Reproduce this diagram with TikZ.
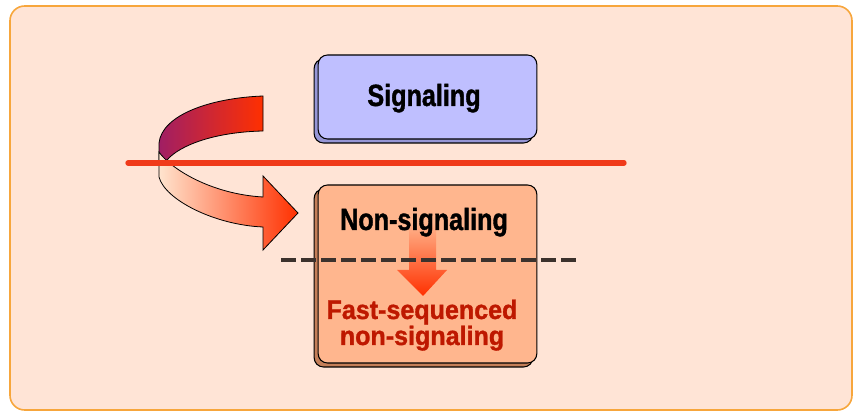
\documentclass[tikz,border=0pt]{standalone}
\usepackage{fontspec}
\setmainfont{Liberation Sans}
\newfontfamily\condfont[FakeStretch=0.82, FakeBold=1.2]{Liberation Sans}
\newfontfamily\redfont[FakeStretch=0.94, FakeBold=1.2]{Liberation Sans}
\definecolor{framefill}{RGB}{255, 228, 214}
\definecolor{frameline}{RGB}{247, 166, 60}
\definecolor{sigblue}{RGB}{191, 191, 255}
\definecolor{sigshadow}{RGB}{150, 150, 214}
\definecolor{nonsigorange}{RGB}{255, 182, 142}
\definecolor{nonsigshadow}{RGB}{196, 126, 88}
\definecolor{cutred}{RGB}{240, 58, 26}
\definecolor{arrowred}{RGB}{255, 48, 0}
\definecolor{arrowplum}{RGB}{160, 30, 100}
\definecolor{arrowpeach}{RGB}{255, 228, 206}
\definecolor{fastred}{RGB}{190, 24, 0}
\definecolor{dashgray}{RGB}{60, 50, 45}
\tikzset{
  modebox/.style={draw=black, line width=0.8pt, rounded corners=7pt, inner sep=0pt,
    minimum width=164pt},
  boxlabel/.style={font=\condfont\bfseries\fontsize{23}{24}\selectfont, text=black},
  fastlabel/.style={font=\redfont\bfseries\fontsize{20}{19.5}\selectfont, text=fastred,
    align=center, anchor=base},
}

\begin{document}
\begin{tikzpicture}[x=0.75pt, y=-0.75pt]
                \useasboundingbox (0,0) rectangle (854,413);
                \draw[fill=framefill, draw=frameline, line width=1.2pt, rounded corners=11pt] (10,6) rectangle (852,410);
                % signaling box with its shadow
                \node[modebox, fill=sigshadow, minimum height=63pt] (sigshade) at (423.5,101) {};
                \node[modebox, fill=sigblue, minimum height=63pt] (sigbox) at (427.5,97) {};
                \node[boxlabel, anchor=base] (sig) at (424,106) {Signaling};
                % non-signaling box with its shadow
                \node[modebox, fill=nonsigshadow, minimum height=133.5pt] (nonshade) at (423.5,278) {};
                \node[modebox, fill=nonsigorange, minimum height=133.5pt] (nonbox) at (427.5,274) {};
                % fading arrow down to the fast mode
                \shade[top color=nonsigorange, bottom color=arrowred, draw=none]
                    (409,222) -- (436,222) -- (436,270) -- (447,270) -- (423,296) -- (397,270) -- (409,270) -- cycle;
                \node[boxlabel, anchor=base] (nonsig) at (424,230) {Non-signaling};
                \node[fastlabel] (fast) at (422,345) {Fast-sequenced\\non-signaling};
                % turning ribbon arrow
                \shade[left color=arrowplum, right color=arrowred, draw=black, line width=0.6pt]
                    (263,96) .. controls (210,98) and (162,115) .. (159,143) -- (159,160)
                    -- (167,160) .. controls (180,145) and (215,132) .. (263,131) -- cycle;
                \shade[left color=arrowpeach, right color=arrowred, draw=black, line width=0.6pt]
                    (159,152) -- (159,177) .. controls (165,200) and (215,225) .. (263,227)
                    -- (263,250) -- (298,213) -- (263,176) -- (263,197)
                    .. controls (210,194) and (170,168) .. cycle;
                % dividers
                \coordinate (cutL) at (128,163);
                \coordinate (cutR) at (624,163);
                \draw[cutred, line width=4pt, line cap=round] (cutL) -- (cutR);
                \coordinate (fastL) at (281,260);
                \coordinate (fastR) at (577,260);
                \draw[dashgray, line width=2.3pt, dash pattern=on 11pt off 4pt] (fastL) -- (fastR);
            \end{tikzpicture}
\end{document}
